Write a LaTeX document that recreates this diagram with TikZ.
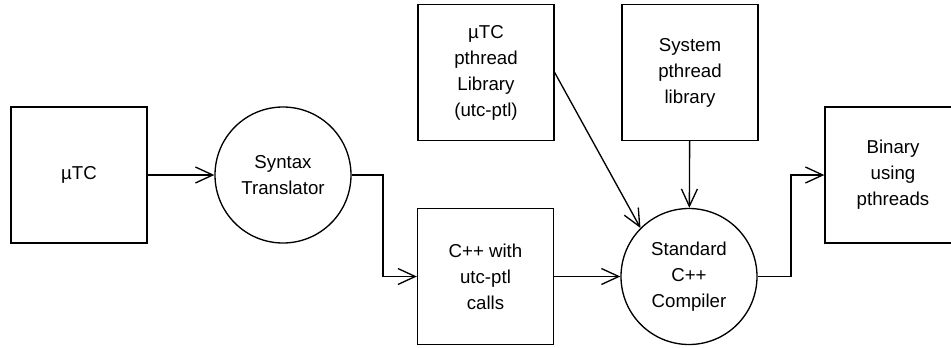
\documentclass[tikz,border=0pt]{standalone}
\usepackage{fontspec}
\setmainfont{Liberation Sans}
\usetikzlibrary{arrows.meta}
\begin{document}
\begin{tikzpicture}[x=0.75pt,y=-0.75pt,
  every node/.style={font=\fontsize{14}{19.5}\selectfont, align=center, inner sep=0pt},
  blk/.style={draw, line width=1pt, minimum width=102pt, minimum height=102pt},
  proc/.style={draw, circle, line width=1pt, minimum size=102pt},
  flow/.style={line width=1pt, -{Straight Barb[length=13pt,width=12pt,line width=1pt]}}]
\useasboundingbox (0,0) rectangle (951,347);
\node[blk] (src) at (79,175) {µTC};
\node[proc] (syn) at (283,175) {Syntax\\Translator};
\node[blk] (cpp) at (485.5,276.5) {C++ with\\utc-ptl\\calls};
\node[blk] (lib) at (486,72.5) {µTC\\pthread\\Library\\(utc-ptl)};
\node[blk] (sys) at (690,72.5) {System\\pthread\\library};
\node[proc] (cmp) at (689,276.5) {Standard\\C++\\Compiler};
\node[blk] (bin) at (893,175) {Binary\\using\\pthreads};
\coordinate (k1) at (383,175);
\coordinate (k2) at (383,276.5);
\coordinate (k3) at (791,276.5);
\coordinate (k4) at (791,175);
\draw[flow] (src) -- (syn);
\draw[flow] (syn.east) -- (k1) -- (k2) -- (cpp.west);
\draw[flow] (cpp) -- (cmp);
\draw[flow] (lib.east) -- (cmp.135);
\draw[flow] (sys) -- (cmp);
\draw[flow] (cmp.east) -- (k3) -- (k4) -- (bin.west);
\end{tikzpicture}
\end{document}
